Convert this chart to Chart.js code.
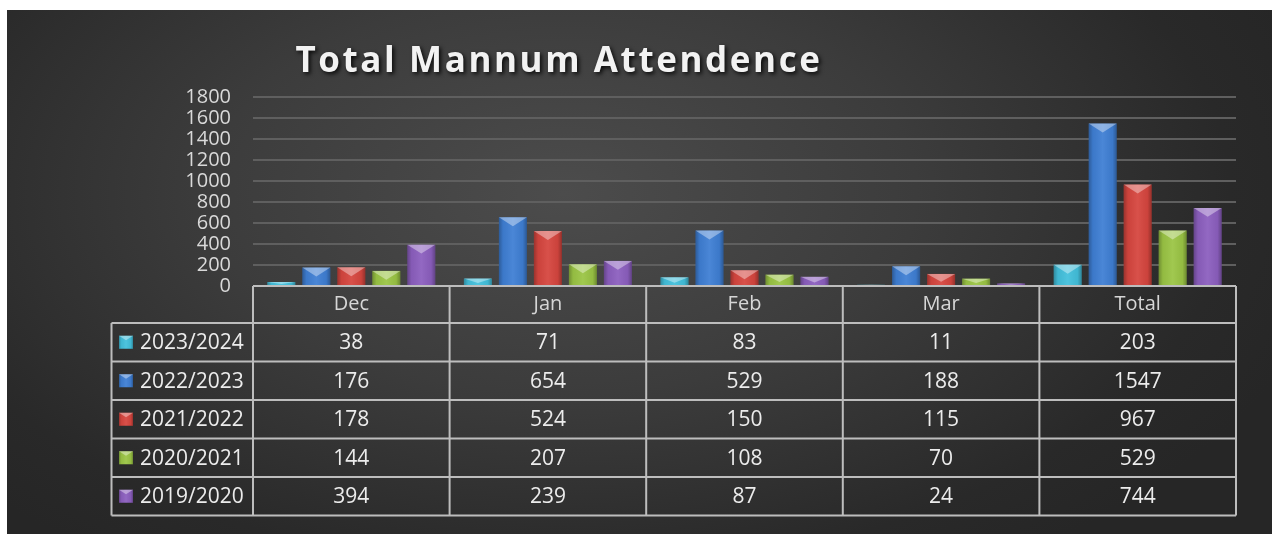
<!DOCTYPE html>
<html>
<head>
<meta charset="utf-8">
<script src="https://cdn.jsdelivr.net/npm/chart.js@4/dist/chart.umd.min.js"></script>
<style>
  html, body { margin: 0; padding: 0; background: #fff; }
  #wrap {
    position: absolute; left: 7px; top: 10px; width: 1265px; height: 524px;
    background: radial-gradient(ellipse 62% 85% at 44% 35%, #4c4c4c 0%, #3c3c3c 45%, #292929 85%, #262626 100%);
  }
  canvas { display: block; }
</style>
</head>
<body>
<div id="wrap"><canvas id="chart" width="1265" height="524"></canvas></div>
<script>
// Data
const categories = ['Dec', 'Jan', 'Feb', 'Mar', 'Total'];
const seasons = ['2023/2024', '2022/2023', '2021/2022', '2020/2021', '2019/2020'];
const season2023 = [38, 71, 83, 11, 203];
const season2022 = [176, 654, 529, 188, 1547];
const season2021 = [178, 524, 150, 115, 967];
const season2020 = [144, 207, 108, 70, 529];
const season2019 = [394, 239, 87, 24, 744];
const yMin = 0, yMax = 1800, yStep = 200;

const seriesValues = [season2023, season2022, season2021, season2020, season2019];
const seriesColors = ['#43c0dc', '#3f7fd4', '#d6463f', '#9bc545', '#8c5fbf'];

const FONT = '"Open Sans", "DejaVu Sans", sans-serif';

// Bevel look on bars and legend markers
function drawBevel(ctx, left, top, right, bottom) {
    const w = right - left, h = bottom - top;
    if (h <= 0) return;
    ctx.save();
    const g = ctx.createLinearGradient(left, 0, right, 0);
    g.addColorStop(0, 'rgba(0,0,0,0.28)');
    g.addColorStop(0.15, 'rgba(0,0,0,0.05)');
    g.addColorStop(0.5, 'rgba(255,255,255,0.06)');
    g.addColorStop(0.85, 'rgba(0,0,0,0.05)');
    g.addColorStop(1, 'rgba(0,0,0,0.30)');
    ctx.fillStyle = g;
    ctx.fillRect(left, top, w, h);
    const d = Math.min(w * 0.32, h * 0.7);
    ctx.beginPath();
    ctx.moveTo(left, top);
    ctx.lineTo(right, top);
    ctx.lineTo(left + w / 2, top + d);
    ctx.closePath();
    ctx.fillStyle = 'rgba(255,255,255,0.38)';
    ctx.fill();
    ctx.restore();
}

const bevelPlugin = {
    id: 'bevel',
    afterDatasetsDraw(chart) {
        const ctx = chart.ctx;
        chart.data.datasets.forEach((ds, i) => {
            chart.getDatasetMeta(i).data.forEach(bar => {
                const p = bar.getProps(['x', 'y', 'base', 'width'], true);
                drawBevel(ctx, p.x - p.width / 2, p.y, p.x + p.width / 2, p.base);
            });
        });
    }
};

const titlePlugin = {
    id: 'bigTitle',
    afterDraw(chart) {
        const ctx = chart.ctx;
        ctx.save();
        ctx.font = 'bold 35px ' + FONT;
        ctx.letterSpacing = '2.6px';
        ctx.textAlign = 'center';
        ctx.textBaseline = 'alphabetic';
        ctx.shadowColor = 'rgba(0,0,0,0.85)';
        ctx.shadowBlur = 4;
        ctx.shadowOffsetX = 2;
        ctx.shadowOffsetY = 2;
        ctx.fillStyle = '#f2f2f2';
        ctx.fillText('Total Mannum Attendence', 552, 62);
        ctx.restore();
    }
};

// Data table under the plot
const tablePlugin = {
    id: 'dataTable',
    afterDraw(chart) {
        const ctx = chart.ctx;
        const area = chart.chartArea;
        const xScale = chart.scales.x;
        const colW = area.width / categories.length;
        const top = area.bottom;
        const headH = 37;
        const rowH = 38.5;
        const legendLeft = 104.5;
        const bottom = top + headH + rowH * seasons.length;

        ctx.save();
        ctx.strokeStyle = '#bdbdbd';
        ctx.lineWidth = 2;
        ctx.beginPath();
        ctx.moveTo(area.left, top);
        ctx.lineTo(area.right, top);
        for (let r = 0; r <= seasons.length; r++) {
            const y = top + headH + r * rowH;
            ctx.moveTo(legendLeft, y);
            ctx.lineTo(area.right, y);
        }
        for (let c = 0; c <= categories.length; c++) {
            const x = area.left + c * colW;
            ctx.moveTo(x, top);
            ctx.lineTo(x, bottom);
        }
        ctx.moveTo(legendLeft, top + headH);
        ctx.lineTo(legendLeft, bottom);
        ctx.stroke();

        ctx.textBaseline = 'middle';
        ctx.textAlign = 'center';
        ctx.font = '20px ' + FONT;
        ctx.fillStyle = '#d6d6d6';
        categories.forEach((cat, c) => {
            ctx.fillText(cat, xScale.getPixelForValue(c), top + headH / 2);
        });

        ctx.font = '21px ' + FONT;
        seasons.forEach((name, r) => {
            const cy = top + headH + r * rowH + rowH / 2;
            ctx.fillStyle = seriesColors[r];
            ctx.fillRect(112, cy - 6.5, 14, 13);
            drawBevel(ctx, 112, cy - 6.5, 126, cy + 6.5);
            ctx.fillStyle = '#ececec';
            ctx.textAlign = 'left';
            ctx.fillText(name, 133, cy + 1);
            ctx.textAlign = 'center';
            seriesValues[r].forEach((v, c) => {
                ctx.fillText(String(v), xScale.getPixelForValue(c), cy + 1);
            });
        });
        ctx.restore();
    }
};

const ctx = document.getElementById('chart').getContext('2d');
const attendanceChart = new Chart(ctx, {
    type: 'bar',
    data: {
        labels: categories,
        datasets: seasons.map((name, i) => ({
            label: name,
            data: seriesValues[i],
            backgroundColor: seriesColors[i],
            borderWidth: 0,
            categoryPercentage: 0.89,
            barPercentage: 0.8
        }))
    },
    options: {
        responsive: false,
        animation: false,
        layout: {
            padding: { left: 106, right: 36, top: 87, bottom: 248 }
        },
        plugins: {
            legend: { display: false },
            title: { display: false },
            tooltip: { enabled: false }
        },
        scales: {
            x: {
                ticks: { display: false },
                grid: { display: false },
                border: { display: false },
                afterFit(scale) { scale.height = 0; }
            },
            y: {
                min: yMin,
                max: yMax,
                ticks: {
                    stepSize: yStep,
                    autoSkip: false,
                    padding: 22,
                    color: '#d9d9d9',
                    font: { family: FONT, size: 20, lineHeight: 1 },
                    callback: v => String(v)
                },
                grid: {
                    color: '#5f5f5f',
                    lineWidth: 2,
                    drawTicks: false
                },
                border: { display: false },
                afterFit(scale) { scale.width = 140; }
            }
        }
    },
    plugins: [bevelPlugin, tablePlugin, titlePlugin]
});
</script>
</body>
</html>
